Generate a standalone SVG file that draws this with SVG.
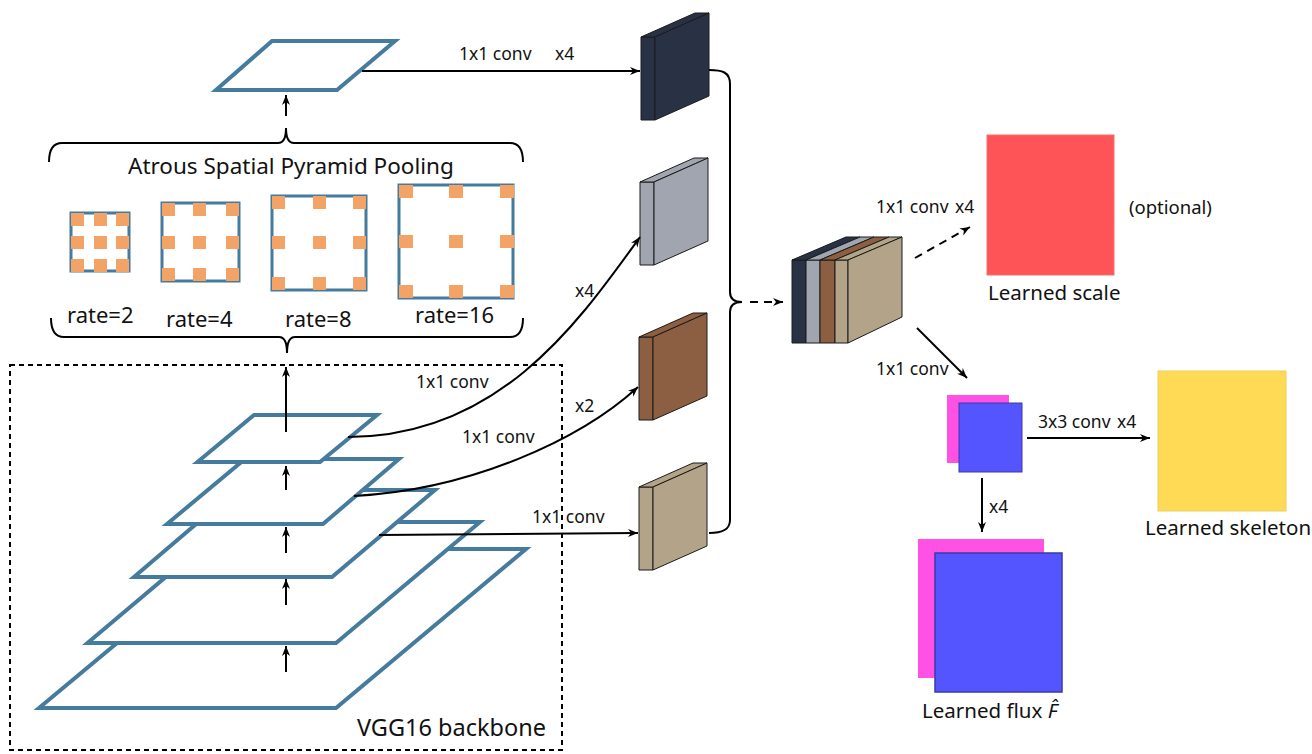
<svg xmlns="http://www.w3.org/2000/svg" xmlns:xlink="http://www.w3.org/1999/xlink" width="1312" height="754" viewBox="0 0 1312 754">
<style>
.t{font-family:"Noto Sans","DejaVu Sans","Liberation Sans",sans-serif;fill:#111}
.s16{font-size:17.5px}
.s19{font-size:20.5px}
.s22{font-size:22px}
.s21{font-size:22.5px}
.s23{font-size:23.5px}
.plane{fill:#fff;stroke:#457B9D;stroke-width:4;stroke-linejoin:miter}
.kern{fill:#fff;stroke:#457B9D;stroke-width:3}
.dot{fill:#F4A366}
.ln{fill:none;stroke:#000;stroke-width:2}
.dash{fill:none;stroke:#000;stroke-width:2;stroke-dasharray:8,6}
.slab{stroke:#1a1a1a;stroke-width:1;stroke-linejoin:round}
</style>
<defs>
<marker id="ah" markerWidth="12" markerHeight="10" refX="10" refY="5" orient="auto" markerUnits="userSpaceOnUse">
<path d="M0,1 L10,5 L0,9 L3,5 z" fill="#000"/>
</marker>
<g id="slabshape" class="slab">
<rect x="0" y="0" width="14" height="83"/>
<polygon points="0,0 14,0 68,-24 54,-24"/>
<polygon points="14,0 68,-24 68,59 14,83"/>
</g>
</defs>
<rect width="1312" height="754" fill="#fff"/>

<g id="vgg-backbone">
<rect x="10" y="365" width="552" height="385" fill="none" stroke="#000" stroke-width="2" stroke-dasharray="5,4"/>
<polygon class="plane" points="230,549 526,549 336,708 39,708"/>
<polygon class="plane" points="231,522 480,522 336,643 87.5,643"/>
<polygon class="plane" points="236,490 435,490 332,577 134,577"/>
<polygon class="plane" points="245,459 399,459 323,524 167,524"/>
<polygon class="plane" points="254,415 377,415 320,462 197.5,462"/>
<text class="t s23" x="357" y="736">VGG16 backbone</text>
</g>

<g id="aspp">
<text class="t s21" x="128" y="174">Atrous Spatial Pyramid Pooling</text>
<g id="rate2">
<rect class="kern" x="71" y="213" width="58" height="58"/>
<rect class="dot" x="71" y="213" width="13" height="13"/><rect class="dot" x="94" y="213" width="13" height="13"/><rect class="dot" x="116" y="213" width="13" height="13"/>
<rect class="dot" x="71" y="236" width="13" height="13"/><rect class="dot" x="94" y="236" width="13" height="13"/><rect class="dot" x="116" y="236" width="13" height="13"/>
<rect class="dot" x="71" y="259" width="13" height="13"/><rect class="dot" x="94" y="259" width="13" height="13"/><rect class="dot" x="116" y="259" width="13" height="13"/>
<text class="t s22" x="67" y="323">rate=2</text>
</g>
<g id="rate4">
<rect class="kern" x="162" y="203" width="77" height="78"/>
<rect class="dot" x="162" y="203" width="13" height="13"/><rect class="dot" x="193" y="203" width="13" height="13"/><rect class="dot" x="226" y="203" width="13" height="13"/>
<rect class="dot" x="162" y="236" width="13" height="13"/><rect class="dot" x="193" y="236" width="13" height="13"/><rect class="dot" x="226" y="236" width="13" height="13"/>
<rect class="dot" x="162" y="268" width="13" height="13"/><rect class="dot" x="193" y="268" width="13" height="13"/><rect class="dot" x="226" y="268" width="13" height="13"/>
<text class="t s22" x="166" y="327">rate=4</text>
</g>
<g id="rate8">
<rect class="kern" x="272" y="196" width="94" height="94"/>
<rect class="dot" x="272" y="196" width="13" height="13"/><rect class="dot" x="313" y="196" width="13" height="13"/><rect class="dot" x="353" y="196" width="13" height="13"/>
<rect class="dot" x="272" y="236" width="13" height="13"/><rect class="dot" x="313" y="236" width="13" height="13"/><rect class="dot" x="353" y="236" width="13" height="13"/>
<rect class="dot" x="272" y="277" width="13" height="13"/><rect class="dot" x="313" y="277" width="13" height="13"/><rect class="dot" x="353" y="277" width="13" height="13"/>
<text class="t s22" x="285" y="327">rate=8</text>
</g>
<g id="rate16">
<rect class="kern" x="399" y="185" width="114" height="113"/>
<rect class="dot" x="399" y="185" width="14" height="13"/><rect class="dot" x="449" y="185" width="14" height="13"/><rect class="dot" x="500" y="185" width="14" height="13"/>
<rect class="dot" x="399" y="235" width="14" height="13"/><rect class="dot" x="449" y="235" width="14" height="13"/><rect class="dot" x="500" y="235" width="14" height="13"/>
<rect class="dot" x="399" y="285" width="14" height="13"/><rect class="dot" x="449" y="285" width="14" height="13"/><rect class="dot" x="500" y="285" width="14" height="13"/>
<text class="t s22" x="415" y="323">rate=16</text>
</g>
</g>

<g id="aspp-output">
<polygon class="plane" points="272,41 395,41 337,90 216,90"/>
</g>

<g id="feat-aspp"><use xlink:href="#slabshape" x="641" y="37" fill="#293245"/></g>
<g id="feat-conv5"><use xlink:href="#slabshape" x="640" y="182" fill="#A1A5AF"/></g>
<g id="feat-conv4"><use xlink:href="#slabshape" x="639" y="337" fill="#8C5F43"/></g>
<g id="feat-conv3"><use xlink:href="#slabshape" x="639" y="487" fill="#B3A489"/></g>

<g id="concat" class="slab">
<rect x="792" y="260" width="14" height="83" fill="#293245"/>
<rect x="806" y="260" width="14" height="83" fill="#A1A5AF"/>
<rect x="820" y="260" width="15" height="83" fill="#8C5F43"/>
<rect x="835" y="260" width="13" height="83" fill="#B3A489"/>
<polygon points="792,260 806,260 860,237 846,237" fill="#293245"/>
<polygon points="806,260 820,260 874,237 860,237" fill="#A1A5AF"/>
<polygon points="820,260 835,260 889,237 874,237" fill="#8C5F43"/>
<polygon points="835,260 848,260 902,237 889,237" fill="#B3A489"/>
<polygon points="848,260 902,237 902,317 848,343" fill="#B3A489"/>
</g>

<g id="learned-scale">
<rect x="987" y="135" width="127" height="140" fill="#FF5457" stroke="#f07070" stroke-width="1"/>
<text class="t s19" x="988" y="300">Learned scale</text>
<text class="t s16" x="1129" y="214" style="font-size:18.5px">(optional)</text>
</g>

<g id="flux-small">
<rect x="947" y="395" width="62" height="68" fill="#FF52E4"/>
<rect x="959" y="403" width="63" height="69" fill="#5555FF" stroke="#3a3aa8" stroke-width="1"/>
</g>

<g id="learned-skeleton">
<rect x="1158" y="371" width="128" height="140" fill="#FFDA55" stroke="#e8d060" stroke-width="1"/>
<text class="t s19" x="1145" y="535">Learned skeleton</text>
</g>

<g id="learned-flux">
<rect x="918" y="539" width="126" height="139" fill="#FF52E4"/>
<rect x="935" y="553" width="127" height="139" fill="#5555FF" stroke="#3a3aa8" stroke-width="1.5"/>
<text class="t s19" x="922" y="718">Learned flux <tspan font-style="italic">F&#770;</tspan></text>
</g>

<g id="connectors">
<path class="ln" d="M362,71 L640,71" marker-end="url(#ah)"/>
<path class="ln" d="M286,116 L286,95" marker-end="url(#ah)"/>
<path class="ln" d="M49,162 Q49,143 62,143 L278,143 Q286,143 286,128 Q286,143 294,143 L510,143 Q523,143 523,162"/>
<path class="ln" d="M51,318 Q51,337 64,337 L279,337 Q287,337 287,353 Q287,337 295,337 L510,337 Q523,337 523,318"/>
<path class="ln" d="M286,432 L286,367" marker-end="url(#ah)"/>
<path class="ln" d="M286,490 L286,466" marker-end="url(#ah)"/>
<path class="ln" d="M286,553 L286,527" marker-end="url(#ah)"/>
<path class="ln" d="M286,605 L286,579" marker-end="url(#ah)"/>
<path class="ln" d="M286,672 L286,646" marker-end="url(#ah)"/>
<path class="ln" d="M348,437 C500,437 580,320 640,237" marker-end="url(#ah)"/>
<path class="ln" d="M354,496 C470,490 580,440 638,387" marker-end="url(#ah)"/>
<path class="ln" d="M379,535 L638,533" marker-end="url(#ah)"/>
<path class="ln" d="M709,70 C722,70 730,72 730,84 L730,292 C730,299 734,302 742,302 C734,302 730,305 730,312 L730,520 C730,530 722,533 709,533"/>
<path class="dash" d="M750,302 L783,302" marker-end="url(#ah)"/>
<path class="dash" d="M915,258 L970,227" marker-end="url(#ah)"/>
<path class="ln" d="M917,328 L967,378" marker-end="url(#ah)"/>
<path class="ln" d="M1027,438 L1150,438" marker-end="url(#ah)"/>
<path class="ln" d="M982,478 L982,532" marker-end="url(#ah)"/>
</g>

<g id="labels">
<text class="t s16" x="459" y="60">1x1 conv</text>
<text class="t s16" x="555" y="60">x4</text>
<text class="t s16" x="416" y="388">1x1 conv</text>
<text class="t s16" x="575" y="297">x4</text>
<text class="t s16" x="462" y="443">1x1 conv</text>
<text class="t s16" x="575" y="412">x2</text>
<text class="t s16" x="532" y="523">1x1 conv</text>
<text class="t s16" x="876" y="213">1x1 conv</text>
<text class="t s16" x="955" y="213">x4</text>
<text class="t s16" x="876" y="375">1x1 conv</text>
<text class="t s16" x="1038" y="428">3x3 conv</text>
<text class="t s16" x="1117" y="428">x4</text>
<text class="t s16" x="989" y="513">x4</text>
</g>
</svg>
